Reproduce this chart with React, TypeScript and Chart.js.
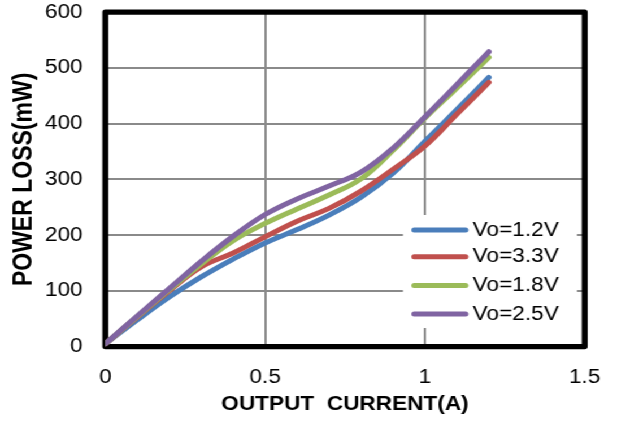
import { useEffect, useRef } from 'react';
import { Chart, registerables } from 'chart.js';

Chart.register(...registerables);

// Output current (A) sample points
const currentA = [0, 0.1, 0.2, 0.3, 0.4, 0.5, 0.6, 0.7, 0.8, 0.9, 1.0, 1.1, 1.2];

// Power loss (mW) for each output voltage
const lossVo12 = [5, 48, 89, 125, 157, 186, 210, 236, 268, 311, 368, 425, 483];
const lossVo33 = [5, 53, 100, 143, 168, 197, 225, 248, 279, 318, 360, 417, 474];
const lossVo18 = [5, 54, 102, 148, 190, 221, 247, 272, 301, 352, 410, 464, 519];
const lossVo25 = [5, 55, 104, 153, 198, 237, 265, 288, 313, 356, 412, 470, 529];

const seriesLabels = ['Vo=1.2V', 'Vo=3.3V', 'Vo=1.8V', 'Vo=2.5V'];
const seriesColors = ['#4A7EBB', '#C0504D', '#9BBB59', '#8064A2'];
const seriesValues = [lossVo12, lossVo33, lossVo18, lossVo25];

const xTicks = [0, 0.5, 1, 1.5];
const xTickLabels = ['0', '0.5', '1', '1.5'];
const yTicks = [0, 100, 200, 300, 400, 500, 600];
const yTickLabels = ['0', '100', '200', '300', '400', '500', '600'];

const CANVAS_W = 546;
const CANVAS_H = 425;
const STRETCH_X = 617 / CANVAS_W;
const FONT = '"Liberation Sans", Arial, sans-serif';

// Keep the plot area placed by layout.padding alone
const clearScalePadding = (scale: any) => {
  scale.paddingTop = 0;
  scale.paddingBottom = 0;
  scale.paddingLeft = 0;
  scale.paddingRight = 0;
};

// Thick black frame around the plot area
const framePlugin = {
  id: 'plotFrame',
  beforeDatasetsDraw(chart: any) {
    const { ctx, chartArea } = chart;
    ctx.save();
    ctx.strokeStyle = '#000';
    ctx.lineWidth = 5.3;
    ctx.lineJoin = 'round';
    ctx.strokeRect(chartArea.left, chartArea.top, chartArea.right - chartArea.left, chartArea.bottom - chartArea.top);
    ctx.restore();
  },
};

// Boxed legend inside the lower-right part of the plot
const legendPlugin = {
  id: 'insetLegend',
  afterDatasetsDraw(chart: any) {
    const { ctx } = chart;
    const boxLeft = 356.6;
    const boxTop = 215;
    const boxRight = 510.6;
    const boxBottom = 328;
    const rowYs = [230, 256.7, 285.5, 314];
    ctx.save();
    ctx.fillStyle = '#fff';
    ctx.fillRect(boxLeft, boxTop, boxRight - boxLeft, boxBottom - boxTop);
    ctx.font = `20px ${FONT}`;
    ctx.textBaseline = 'middle';
    ctx.textAlign = 'left';
    seriesLabels.forEach((label, i) => {
      const y = rowYs[i];
      ctx.strokeStyle = seriesColors[i];
      ctx.lineWidth = 5;
      ctx.lineCap = 'round';
      ctx.beginPath();
      ctx.moveTo(366.5, y);
      ctx.lineTo(412, y);
      ctx.stroke();
      ctx.fillStyle = '#000';
      ctx.fillText(label, 418.3, y);
    });
    ctx.restore();
  },
};

export default function App() {
  const canvasRef = useRef<HTMLCanvasElement>(null);

  useEffect(() => {
    const canvas = canvasRef.current;
    if (!canvas) return;

    const drawOrder = [3, 2, 1, 0];
    const datasets = seriesValues.map((vals, i) => ({
      label: seriesLabels[i],
      data: currentA.map((x, j) => ({ x, y: vals[j] })),
      borderColor: seriesColors[i],
      backgroundColor: seriesColors[i],
      borderWidth: 5,
      borderCapStyle: 'round' as const,
      borderJoinStyle: 'round' as const,
      pointRadius: 0,
      tension: 0.4,
      fill: false,
      order: drawOrder[i],
    }));

    const chart = new Chart(canvas, {
      type: 'line',
      data: { datasets },
      options: {
        animation: false,
        responsive: false,
        maintainAspectRatio: false,
        layout: { padding: { top: 12.2, right: 28.6, left: 0, bottom: 0 } },
        plugins: {
          legend: { display: false },
          tooltip: { enabled: false },
        },
        scales: {
          x: {
            type: 'linear',
            min: 0,
            max: 1.5,
            afterBuildTicks(scale: any) {
              scale.ticks = xTicks.map((v) => ({ value: v }));
            },
            afterFit(scale: any) {
              scale.height = 78.4;
              clearScalePadding(scale);
            },
            ticks: {
              color: '#000',
              font: { family: FONT, size: 20 },
              padding: 19,
              maxRotation: 0,
              callback: (v: any) => xTickLabels[xTicks.indexOf(Number(v))] ?? '',
            },
            grid: { color: '#8a8a8a', lineWidth: 2, drawTicks: false },
            border: { display: false },
            title: {
              display: true,
              text: 'OUTPUT  CURRENT(A)',
              color: '#000',
              font: { family: FONT, size: 20, weight: 'bold' },
              padding: { top: 0, bottom: 8.5 },
            },
          },
          y: {
            type: 'linear',
            min: 0,
            max: 600,
            afterBuildTicks(scale: any) {
              scale.ticks = yTicks.map((v) => ({ value: v }));
            },
            afterFit(scale: any) {
              scale.width = 93.2;
              clearScalePadding(scale);
            },
            ticks: {
              color: '#000',
              font: { family: FONT, size: 20 },
              padding: 20,
              callback: (v: any) => yTickLabels[yTicks.indexOf(Number(v))] ?? '',
            },
            grid: { color: '#8a8a8a', lineWidth: 2, drawTicks: false },
            border: { display: false },
            title: {
              display: true,
              text: 'POWER LOSS(mW)',
              color: '#000',
              font: { family: FONT, size: 23, weight: 'bold' },
              padding: { top: 7.4, bottom: 0 },
            },
          },
        },
      },
      plugins: [framePlugin, legendPlugin],
    });

    return () => chart.destroy();
  }, []);

  return (
    <div
      style={{
        position: 'fixed',
        left: 0,
        top: 0,
        width: CANVAS_W,
        height: CANVAS_H,
        background: '#fff',
        transform: `scaleX(${STRETCH_X})`,
        transformOrigin: '0 0',
      }}
    >
      <canvas ref={canvasRef} width={CANVAS_W} height={CANVAS_H} style={{ display: 'block' }} />
    </div>
  );
}
